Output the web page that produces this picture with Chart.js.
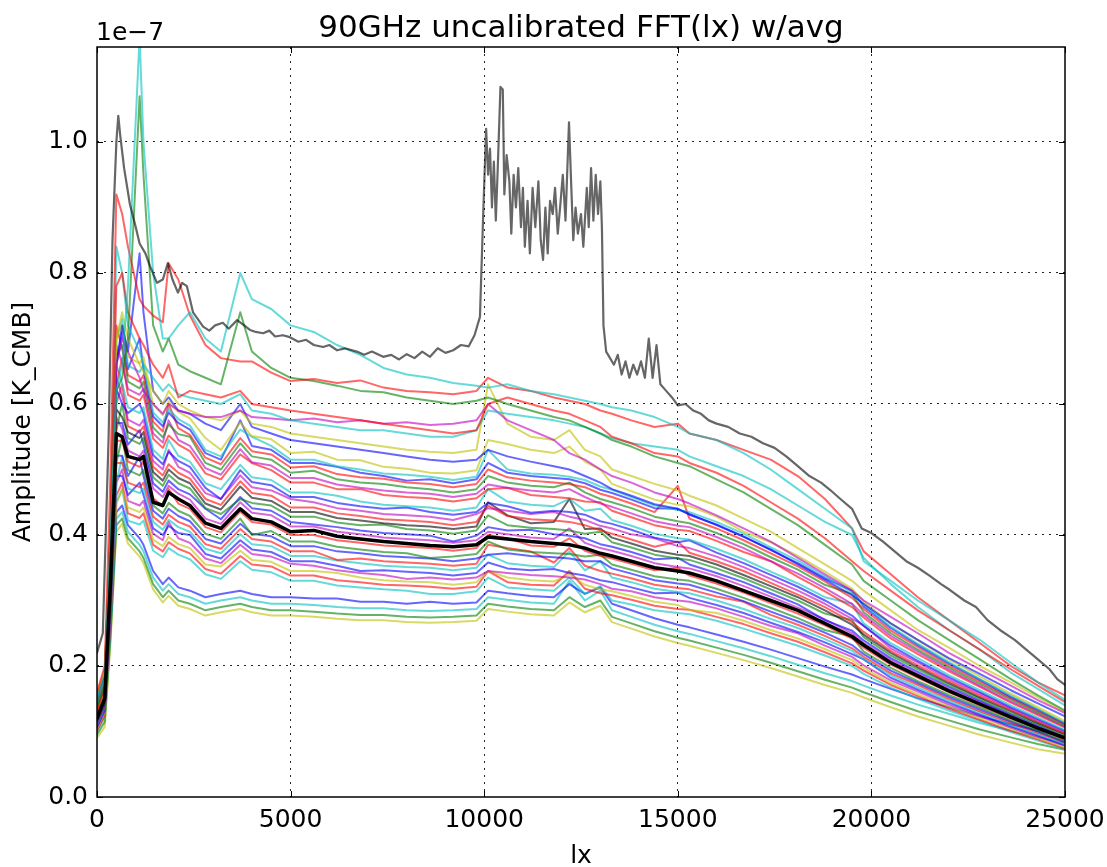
<!DOCTYPE html>
<html><head><meta charset="utf-8">
<script src="https://cdn.jsdelivr.net/npm/chart.js@4.4.0/dist/chart.umd.min.js"></script>
<style>html,body{margin:0;padding:0;background:#fff;}#wrap{width:1107px;height:867px;}</style>
</head><body><div id="wrap"><canvas id="c" width="1107" height="867"></canvas></div>
<script>
// ---- text ----
const titleText = '90GHz uncalibrated FFT(lx) w/avg';
const xLabel = 'lx';
const yLabel = 'Amplitude [K_CMB]';
const offsetLabel = '1e\u22127';
// ---- ticks ----
const xTicks = [0, 5000, 10000, 15000, 20000, 25000];
const yTicks = [0.0, 0.2, 0.4, 0.6, 0.8, 1.0];
// ---- shared lx grid (amplitudes in units of 1e-7 K_CMB) ----
const lxGrid = [0,200,350,500,650,800,1100,1200,1450,1700,1850,2100,2400,2800,3200,3700,4000,4500,5000,5600,6200,6800,7400,8000,8600,9200,9800,10100,10600,11200,11800,12200,12600,13000,13300,13800,14400,15000,15300,16000,16700,17400,18100,18800,19500,19800,20500,21200,22000,22800,23600,24300,25000];
const avgAmp = [0.12,0.15,0.33,0.555,0.55,0.52,0.515,0.52,0.45,0.445,0.465,0.455,0.445,0.418,0.41,0.44,0.425,0.42,0.405,0.407,0.398,0.394,0.39,0.387,0.384,0.382,0.385,0.397,0.394,0.39,0.387,0.385,0.38,0.372,0.368,0.36,0.35,0.345,0.342,0.33,0.315,0.3,0.285,0.265,0.245,0.232,0.205,0.185,0.162,0.142,0.122,0.105,0.09];
const cyanHi = [0.15,0.18,0.40,0.62,0.66,0.78,1.16,1.0,0.80,0.70,0.70,0.72,0.74,0.70,0.68,0.80,0.76,0.745,0.72,0.71,0.69,0.675,0.655,0.645,0.64,0.632,0.628,0.625,0.63,0.62,0.615,0.61,0.605,0.60,0.595,0.59,0.58,0.565,0.555,0.545,0.525,0.50,0.47,0.44,0.41,0.36,0.33,0.30,0.27,0.24,0.205,0.175,0.148];
const greenHi = [0.14,0.17,0.38,0.62,0.64,0.70,1.07,0.95,0.72,0.68,0.70,0.66,0.65,0.64,0.63,0.74,0.68,0.655,0.64,0.635,0.628,0.62,0.618,0.61,0.605,0.60,0.605,0.61,0.60,0.59,0.58,0.575,0.565,0.555,0.545,0.535,0.52,0.51,0.505,0.485,0.465,0.44,0.415,0.385,0.355,0.33,0.30,0.27,0.24,0.21,0.18,0.155,0.132];
const redHi = [0.16,0.20,0.50,0.92,0.89,0.84,0.76,0.75,0.735,0.725,0.815,0.79,0.735,0.69,0.67,0.665,0.665,0.648,0.635,0.638,0.632,0.636,0.625,0.62,0.618,0.615,0.62,0.64,0.625,0.62,0.61,0.605,0.60,0.59,0.585,0.575,0.565,0.57,0.555,0.545,0.53,0.515,0.49,0.455,0.41,0.375,0.34,0.305,0.27,0.235,0.20,0.175,0.155];
const redMid = [0.13,0.17,0.42,0.78,0.80,0.74,0.70,0.69,0.66,0.64,0.66,0.61,0.62,0.615,0.61,0.62,0.60,0.595,0.59,0.585,0.58,0.575,0.57,0.565,0.56,0.555,0.56,0.60,0.61,0.60,0.59,0.585,0.575,0.565,0.55,0.54,0.525,0.52,0.51,0.495,0.475,0.45,0.425,0.395,0.36,0.345,0.315,0.285,0.255,0.225,0.195,0.17,0.145];
const cyanMid = [0.14,0.17,0.40,0.84,0.80,0.72,0.68,0.66,0.64,0.62,0.63,0.615,0.61,0.605,0.60,0.615,0.59,0.585,0.575,0.57,0.565,0.56,0.56,0.555,0.55,0.55,0.56,0.59,0.585,0.58,0.575,0.57,0.565,0.555,0.548,0.54,0.535,0.53,0.52,0.505,0.49,0.47,0.445,0.42,0.40,0.365,0.325,0.29,0.255,0.225,0.19,0.165,0.14];
const magHi = [0.12,0.15,0.35,0.66,0.70,0.68,0.64,0.62,0.60,0.585,0.60,0.59,0.585,0.58,0.58,0.59,0.58,0.578,0.575,0.578,0.572,0.575,0.57,0.572,0.568,0.57,0.575,0.60,0.575,0.56,0.545,0.525,0.515,0.50,0.49,0.48,0.465,0.455,0.448,0.43,0.41,0.39,0.365,0.34,0.315,0.30,0.275,0.25,0.22,0.195,0.17,0.148,0.128];
const yellowHi = [0.13,0.16,0.38,0.70,0.74,0.70,0.66,0.65,0.62,0.60,0.62,0.60,0.59,0.58,0.575,0.59,0.57,0.565,0.555,0.55,0.545,0.54,0.535,0.53,0.527,0.525,0.53,0.63,0.57,0.55,0.545,0.56,0.53,0.52,0.50,0.49,0.478,0.468,0.46,0.445,0.425,0.405,0.38,0.355,0.33,0.315,0.285,0.255,0.228,0.2,0.175,0.152,0.13];
const blueHi = [0.12,0.15,0.36,0.66,0.72,0.68,0.83,0.74,0.62,0.60,0.61,0.59,0.585,0.57,0.56,0.60,0.565,0.555,0.545,0.54,0.535,0.53,0.525,0.52,0.515,0.512,0.515,0.53,0.52,0.512,0.505,0.50,0.49,0.48,0.47,0.46,0.447,0.44,0.432,0.415,0.397,0.378,0.355,0.332,0.308,0.295,0.265,0.24,0.212,0.188,0.163,0.143,0.123];
const bandA = [0.158,0.194,0.415,0.70,0.72,0.672,0.662,0.672,0.599,0.583,0.604,0.588,0.578,0.548,0.530,0.572,0.551,0.546,0.525,0.527,0.515,0.514,0.504,0.501,0.495,0.494,0.499,0.545,0.539,0.53,0.525,0.535,0.512,0.50,0.478,0.467,0.454,0.446,0.444,0.428,0.405,0.389,0.368,0.344,0.318,0.299,0.265,0.239,0.21,0.184,0.158,0.137,0.116];
const bandA2 = [0.155,0.191,0.407,0.70,0.73,0.659,0.649,0.659,0.587,0.572,0.592,0.577,0.567,0.530,0.520,0.561,0.55,0.536,0.515,0.515,0.505,0.500,0.494,0.492,0.489,0.484,0.489,0.53,0.500,0.494,0.492,0.489,0.484,0.474,0.469,0.458,0.445,0.438,0.435,0.420,0.402,0.381,0.361,0.337,0.312,0.294,0.260,0.234,0.206,0.180,0.155,0.134,0.113];
const bandB = [0.153,0.189,0.403,0.66,0.71,0.653,0.70,0.653,0.581,0.566,0.587,0.571,0.561,0.525,0.515,0.575,0.536,0.530,0.510,0.510,0.504,0.495,0.490,0.483,0.485,0.479,0.485,0.510,0.495,0.490,0.487,0.485,0.479,0.469,0.464,0.454,0.441,0.44,0.431,0.416,0.398,0.377,0.357,0.334,0.315,0.291,0.258,0.232,0.204,0.179,0.153,0.133,0.112];
const bandC = [0.151,0.186,0.397,0.72,0.684,0.644,0.634,0.644,0.573,0.558,0.60,0.563,0.553,0.518,0.508,0.548,0.528,0.523,0.503,0.505,0.493,0.488,0.486,0.480,0.478,0.473,0.478,0.50,0.488,0.483,0.480,0.478,0.473,0.463,0.458,0.448,0.435,0.475,0.425,0.410,0.392,0.372,0.352,0.329,0.304,0.287,0.254,0.229,0.201,0.176,0.151,0.131,0.111];
const bandD = [0.149,0.183,0.391,0.673,0.69,0.634,0.624,0.634,0.564,0.549,0.569,0.554,0.55,0.510,0.500,0.540,0.520,0.515,0.495,0.498,0.485,0.480,0.478,0.473,0.470,0.465,0.470,0.49,0.480,0.475,0.473,0.48,0.465,0.455,0.450,0.441,0.428,0.421,0.418,0.403,0.386,0.366,0.347,0.324,0.31,0.282,0.250,0.225,0.198,0.173,0.149,0.129,0.109];
const bandD2 = [0.146,0.180,0.385,0.69,0.662,0.623,0.614,0.623,0.555,0.541,0.575,0.545,0.536,0.502,0.492,0.531,0.511,0.506,0.487,0.487,0.477,0.472,0.468,0.465,0.463,0.458,0.463,0.477,0.472,0.468,0.465,0.47,0.458,0.448,0.443,0.433,0.421,0.414,0.412,0.397,0.380,0.360,0.341,0.319,0.295,0.278,0.246,0.222,0.195,0.170,0.146,0.127,0.107];
const bandE = [0.144,0.178,0.379,0.63,0.67,0.614,0.605,0.614,0.547,0.533,0.552,0.538,0.528,0.494,0.485,0.523,0.51,0.499,0.480,0.480,0.470,0.47,0.461,0.458,0.456,0.451,0.456,0.470,0.472,0.461,0.458,0.456,0.451,0.45,0.437,0.427,0.415,0.408,0.406,0.391,0.374,0.36,0.336,0.314,0.290,0.274,0.242,0.218,0.192,0.168,0.144,0.125,0.106];
const bandF = [0.140,0.172,0.367,0.66,0.632,0.595,0.586,0.595,0.530,0.516,0.545,0.521,0.512,0.479,0.470,0.507,0.488,0.484,0.465,0.465,0.46,0.451,0.446,0.444,0.442,0.437,0.442,0.47,0.451,0.446,0.444,0.455,0.437,0.44,0.423,0.414,0.402,0.395,0.393,0.379,0.363,0.344,0.326,0.305,0.295,0.265,0.235,0.212,0.186,0.163,0.140,0.121,0.102];
const bandG = [0.137,0.169,0.362,0.623,0.60,0.586,0.60,0.586,0.522,0.508,0.527,0.513,0.504,0.472,0.455,0.499,0.481,0.476,0.458,0.458,0.449,0.444,0.440,0.442,0.435,0.431,0.435,0.449,0.444,0.434,0.437,0.435,0.431,0.421,0.417,0.408,0.396,0.389,0.392,0.373,0.357,0.339,0.321,0.300,0.277,0.261,0.231,0.208,0.183,0.160,0.137,0.119,0.101];
const bandH = [0.135,0.167,0.356,0.64,0.612,0.576,0.567,0.576,0.513,0.500,0.53,0.504,0.495,0.464,0.455,0.491,0.473,0.468,0.455,0.450,0.441,0.437,0.432,0.430,0.428,0.423,0.432,0.441,0.437,0.432,0.435,0.428,0.423,0.414,0.410,0.401,0.395,0.383,0.380,0.367,0.351,0.333,0.315,0.295,0.272,0.262,0.227,0.205,0.180,0.158,0.135,0.117,0.099];
const bandH2 = [0.133,0.164,0.349,0.601,0.63,0.566,0.557,0.566,0.504,0.491,0.508,0.495,0.486,0.455,0.446,0.482,0.464,0.460,0.442,0.442,0.433,0.429,0.424,0.422,0.420,0.415,0.420,0.445,0.429,0.424,0.422,0.420,0.415,0.407,0.402,0.393,0.382,0.39,0.373,0.360,0.345,0.327,0.309,0.290,0.267,0.252,0.223,0.201,0.177,0.155,0.133,0.115,0.097];
const bandI = [0.131,0.161,0.344,0.592,0.58,0.557,0.548,0.557,0.496,0.483,0.500,0.487,0.479,0.448,0.439,0.474,0.457,0.452,0.435,0.435,0.426,0.422,0.418,0.415,0.413,0.409,0.413,0.45,0.43,0.418,0.42,0.455,0.409,0.41,0.396,0.387,0.376,0.370,0.368,0.355,0.339,0.322,0.305,0.285,0.263,0.248,0.220,0.198,0.174,0.152,0.131,0.113,0.096];
const bandJ = [0.128,0.158,0.338,0.56,0.60,0.548,0.539,0.548,0.488,0.475,0.492,0.479,0.471,0.441,0.432,0.455,0.449,0.445,0.428,0.428,0.419,0.415,0.416,0.409,0.407,0.402,0.407,0.43,0.415,0.411,0.409,0.407,0.402,0.405,0.389,0.381,0.370,0.364,0.362,0.349,0.334,0.317,0.300,0.280,0.27,0.244,0.216,0.195,0.171,0.150,0.128,0.111,0.094];
const bandK = [0.126,0.155,0.332,0.571,0.571,0.538,0.56,0.538,0.479,0.466,0.483,0.470,0.462,0.44,0.424,0.458,0.441,0.437,0.420,0.416,0.412,0.407,0.403,0.401,0.399,0.39,0.399,0.412,0.407,0.408,0.401,0.399,0.395,0.386,0.382,0.374,0.363,0.365,0.355,0.342,0.328,0.311,0.294,0.27,0.254,0.239,0.212,0.191,0.168,0.147,0.126,0.109,0.092];
const bandK2 = [0.124,0.153,0.326,0.58,0.562,0.529,0.520,0.529,0.471,0.458,0.475,0.463,0.454,0.425,0.417,0.450,0.434,0.430,0.413,0.413,0.405,0.401,0.396,0.394,0.392,0.388,0.392,0.405,0.401,0.396,0.394,0.41,0.388,0.380,0.376,0.368,0.357,0.351,0.349,0.337,0.322,0.306,0.289,0.271,0.250,0.235,0.209,0.188,0.165,0.145,0.124,0.107,0.091];
const bandL = [0.12,0.148,0.316,0.544,0.544,0.512,0.504,0.512,0.456,0.444,0.47,0.448,0.44,0.412,0.404,0.436,0.42,0.416,0.40,0.40,0.392,0.388,0.384,0.382,0.38,0.376,0.38,0.40,0.395,0.384,0.382,0.395,0.376,0.368,0.364,0.356,0.346,0.35,0.338,0.326,0.312,0.296,0.28,0.262,0.242,0.228,0.202,0.182,0.16,0.14,0.12,0.104,0.088];
const bandM = [0.117,0.144,0.308,0.51,0.55,0.499,0.491,0.499,0.445,0.433,0.449,0.437,0.429,0.402,0.394,0.425,0.40,0.406,0.390,0.390,0.382,0.378,0.374,0.372,0.365,0.367,0.371,0.39,0.378,0.374,0.372,0.371,0.367,0.37,0.355,0.347,0.337,0.332,0.330,0.318,0.304,0.289,0.273,0.255,0.245,0.222,0.197,0.177,0.156,0.137,0.117,0.101,0.086];
const bandM2 = [0.115,0.142,0.303,0.521,0.521,0.490,0.52,0.490,0.437,0.425,0.440,0.429,0.421,0.394,0.387,0.417,0.402,0.398,0.383,0.383,0.375,0.372,0.368,0.366,0.364,0.360,0.364,0.37,0.372,0.368,0.366,0.364,0.360,0.36,0.349,0.341,0.331,0.326,0.324,0.312,0.299,0.283,0.268,0.251,0.232,0.218,0.193,0.174,0.153,0.134,0.115,0.100,0.084];
const bandN = [0.113,0.139,0.296,0.510,0.510,0.480,0.473,0.480,0.428,0.416,0.431,0.420,0.413,0.386,0.379,0.409,0.394,0.390,0.375,0.375,0.362,0.364,0.360,0.358,0.356,0.353,0.356,0.385,0.38,0.375,0.358,0.38,0.353,0.345,0.341,0.334,0.324,0.319,0.317,0.306,0.298,0.278,0.263,0.246,0.227,0.214,0.189,0.171,0.150,0.131,0.113,0.098,0.083];
const bandO = [0.110,0.136,0.291,0.48,0.52,0.471,0.464,0.471,0.420,0.408,0.423,0.412,0.405,0.379,0.372,0.401,0.386,0.383,0.368,0.368,0.361,0.357,0.353,0.351,0.350,0.346,0.350,0.37,0.357,0.353,0.351,0.375,0.346,0.36,0.335,0.328,0.318,0.313,0.311,0.300,0.287,0.272,0.258,0.241,0.223,0.210,0.186,0.167,0.147,0.129,0.110,0.096,0.081];
const bandP = [0.108,0.133,0.284,0.490,0.490,0.461,0.48,0.461,0.410,0.400,0.414,0.403,0.40,0.371,0.364,0.392,0.378,0.374,0.360,0.360,0.353,0.345,0.346,0.344,0.342,0.338,0.342,0.358,0.349,0.346,0.348,0.342,0.338,0.331,0.328,0.320,0.311,0.312,0.304,0.293,0.281,0.266,0.252,0.236,0.218,0.21,0.182,0.164,0.144,0.126,0.108,0.094,0.079];
const bandQ = [0.106,0.131,0.279,0.480,0.50,0.452,0.445,0.452,0.402,0.392,0.42,0.395,0.388,0.364,0.357,0.385,0.371,0.367,0.356,0.353,0.346,0.342,0.339,0.333,0.335,0.332,0.335,0.345,0.342,0.339,0.337,0.335,0.332,0.325,0.318,0.314,0.305,0.300,0.298,0.288,0.275,0.261,0.25,0.231,0.214,0.201,0.178,0.161,0.141,0.124,0.106,0.092,0.078];
const bandR = [0.104,0.128,0.273,0.45,0.469,0.442,0.435,0.442,0.393,0.383,0.397,0.386,0.380,0.355,0.352,0.376,0.362,0.359,0.345,0.345,0.342,0.335,0.331,0.329,0.328,0.324,0.328,0.345,0.335,0.331,0.329,0.34,0.324,0.317,0.314,0.307,0.298,0.293,0.286,0.281,0.269,0.255,0.242,0.226,0.209,0.197,0.174,0.157,0.138,0.121,0.104,0.090,0.076];
const bandR2 = [0.101,0.125,0.267,0.460,0.48,0.433,0.426,0.433,0.385,0.375,0.389,0.379,0.372,0.348,0.341,0.368,0.355,0.352,0.338,0.338,0.331,0.328,0.324,0.323,0.321,0.318,0.321,0.345,0.328,0.324,0.323,0.345,0.318,0.311,0.308,0.301,0.292,0.287,0.286,0.275,0.264,0.250,0.237,0.221,0.204,0.193,0.171,0.154,0.135,0.118,0.101,0.088,0.074];
const bandS = [0.099,0.122,0.261,0.449,0.47,0.422,0.416,0.422,0.376,0.366,0.380,0.370,0.363,0.340,0.333,0.360,0.347,0.343,0.330,0.330,0.323,0.320,0.317,0.315,0.31,0.310,0.314,0.335,0.320,0.317,0.315,0.335,0.310,0.322,0.300,0.294,0.285,0.281,0.279,0.269,0.257,0.244,0.231,0.216,0.200,0.188,0.167,0.150,0.132,0.116,0.099,0.086,0.073];
const lowA = [0.115,0.135,0.265,0.435,0.445,0.415,0.395,0.385,0.345,0.325,0.335,0.32,0.315,0.305,0.31,0.315,0.31,0.305,0.305,0.303,0.303,0.298,0.298,0.295,0.298,0.295,0.297,0.315,0.311,0.307,0.305,0.325,0.31,0.32,0.295,0.285,0.273,0.263,0.259,0.248,0.237,0.225,0.212,0.199,0.187,0.18,0.165,0.151,0.137,0.123,0.111,0.101,0.092];
const lowB = [0.105,0.125,0.255,0.425,0.435,0.405,0.385,0.375,0.335,0.315,0.325,0.31,0.305,0.295,0.30,0.305,0.30,0.295,0.295,0.293,0.29,0.288,0.288,0.285,0.284,0.285,0.287,0.305,0.301,0.297,0.295,0.33,0.30,0.315,0.285,0.275,0.263,0.253,0.249,0.238,0.227,0.215,0.202,0.189,0.177,0.17,0.155,0.141,0.127,0.113,0.101,0.091,0.082];
const lowC = [0.095,0.115,0.245,0.415,0.425,0.395,0.375,0.365,0.325,0.305,0.315,0.30,0.295,0.285,0.29,0.295,0.29,0.285,0.285,0.283,0.28,0.278,0.278,0.275,0.274,0.275,0.277,0.295,0.291,0.287,0.285,0.305,0.29,0.30,0.275,0.265,0.253,0.243,0.239,0.228,0.217,0.205,0.192,0.179,0.167,0.16,0.145,0.131,0.117,0.103,0.091,0.081,0.072];
const lowD = [0.09,0.107,0.237,0.405,0.417,0.387,0.367,0.357,0.317,0.297,0.307,0.292,0.287,0.277,0.282,0.287,0.282,0.277,0.277,0.275,0.272,0.27,0.27,0.267,0.266,0.267,0.269,0.287,0.283,0.279,0.277,0.297,0.282,0.292,0.267,0.257,0.245,0.235,0.231,0.22,0.209,0.197,0.184,0.171,0.159,0.152,0.137,0.123,0.109,0.095,0.083,0.073,0.066];
// ---- the outlier detector (finer lx sampling) ----
const grayLx = [0,150,300,400,500,550,600,700,850,1000,
1100,1250,1370,1550,1700,1830,1950,2090,2200,2320,
2480,2600,2740,2900,3050,3250,3400,3620,3800,3950,
4100,4290,4450,4600,4800,4980,5200,5400,5600,5840,
6000,6200,6400,6710,6900,7100,7390,7600,7800,8000,
8200,8400,8600,8800,9000,9200,9400,9600,9750,9890,
9980,10050,10100,10150,10200,10250,10300,10350,10420,10480,
10520,10580,10650,10700,10760,10820,10880,10950,11000,11050,
11120,11180,11250,11320,11400,11460,11520,11580,11640,11700,
11770,11830,11900,11960,12030,12100,12190,12250,12300,12360,
12420,12500,12560,12650,12700,12760,12820,12880,12940,13000,
13040,13080,13150,13250,13350,13450,13550,13650,13750,13850,
13950,14050,14150,14250,14350,14450,14550,14700,14850,15000,
15200,15400,15600,15800,16000,16300,16600,16900,17200,17500,
17800,18100,18400,18700,18930,19200,19500,19750,20000,20300,
20600,20900,21200,21500,21800,22030,22400,22700,23000,23320,
23700,24000,24300,24600,24800,25000];
const grayAmp = [0.22,0.25,0.55,0.85,1.00,1.04,1.01,0.96,0.905,0.87,
0.845,0.83,0.81,0.785,0.79,0.815,0.79,0.77,0.785,0.78,
0.74,0.73,0.718,0.712,0.72,0.724,0.715,0.728,0.72,0.713,
0.71,0.708,0.712,0.703,0.705,0.702,0.695,0.698,0.69,0.687,
0.69,0.682,0.685,0.68,0.675,0.68,0.672,0.675,0.668,0.676,
0.67,0.68,0.672,0.685,0.678,0.682,0.69,0.688,0.705,0.733,
0.90,1.02,0.95,0.99,0.90,0.97,0.88,0.96,1.084,1.08,
0.92,0.98,0.94,0.86,0.95,0.90,0.96,0.87,0.93,0.84,
0.91,0.83,0.93,0.87,0.94,0.85,0.82,0.90,0.83,0.91,
0.89,0.93,0.86,0.90,0.95,0.88,1.03,0.93,0.85,0.90,
0.86,0.89,0.84,0.93,0.87,0.96,0.88,0.95,0.89,0.94,
0.87,0.72,0.68,0.67,0.66,0.675,0.645,0.665,0.64,0.66,
0.645,0.665,0.64,0.70,0.64,0.69,0.63,0.62,0.61,0.598,
0.60,0.59,0.585,0.575,0.57,0.565,0.555,0.55,0.54,0.533,
0.52,0.505,0.49,0.48,0.469,0.455,0.44,0.41,0.403,0.39,
0.375,0.36,0.35,0.338,0.325,0.316,0.30,0.29,0.27,0.255,
0.24,0.225,0.21,0.195,0.18,0.171];

// ---- styling ----
const COL = {b:'rgba(0,0,255,0.6)', g:'rgba(0,128,0,0.6)', r:'rgba(255,0,0,0.6)', c:'rgba(0,191,191,0.6)',
             m:'rgba(191,0,191,0.6)', y:'rgba(191,191,0,0.6)', k:'rgba(0,0,0,0.6)'};
const FONT = '"DejaVu Sans", sans-serif';

const detectorLines = [
  [lowD,'y'],[lowC,'g'],[lowB,'c'],[lowA,'b'],
  [bandS,'c'],[bandR2,'r'],[bandR,'y'],[bandQ,'m'],[bandP,'b'],[bandO,'c'],[bandN,'r'],[bandM2,'b'],[bandM,'g'],[bandL,'r'],
  [bandK2,'m'],[bandK,'b'],[bandJ,'g'],[bandI,'k'],[bandH2,'r'],[bandH,'m'],[bandG,'b'],[bandF,'c'],[bandE,'r'],[bandD2,'m'],[bandD,'g'],
  [bandC,'r'],[bandB,'b'],[bandA2,'c'],[bandA,'y'],
  [blueHi,'b'],[yellowHi,'y'],[magHi,'m'],[cyanMid,'c'],[redMid,'r'],[greenHi,'g'],[redHi,'r'],[cyanHi,'c']
];

const datasets = [];
datasets.push({label:'average', data: lxGrid.map((x,i)=>({x:x, y:avgAmp[i]})),
  borderColor:'#000', borderWidth:3.5, order:0});
detectorLines.forEach((d,j)=>{
  datasets.push({label:'det'+j, data: lxGrid.map((x,i)=>({x:x, y:d[0][i]})),
    borderColor: COL[d[1]], borderWidth:2, order:2+(detectorLines.length-j)});
});
datasets.push({label:'outlier', data: grayLx.map((x,i)=>({x:x, y:grayAmp[i]})),
  borderColor: COL.k, borderWidth:2.2, order:1});

const decor = {
  id:'decor',
  afterDatasetsDraw(chart){
    const ctx = chart.ctx, a = chart.chartArea, xs = chart.scales.x, ys = chart.scales.y;
    ctx.save();
    ctx.strokeStyle = '#000';
    ctx.lineWidth = 1;
    ctx.beginPath();
    xTicks.forEach(v=>{ const p = Math.round(xs.getPixelForValue(v)) + 0.5;
      ctx.moveTo(p, a.bottom); ctx.lineTo(p, a.bottom-6); ctx.moveTo(p, a.top); ctx.lineTo(p, a.top+6); });
    yTicks.forEach(v=>{ const p = Math.round(ys.getPixelForValue(v)) + 0.5;
      ctx.moveTo(a.left, p); ctx.lineTo(a.left+6, p); ctx.moveTo(a.right, p); ctx.lineTo(a.right-6, p); });
    ctx.stroke();
    ctx.lineWidth = 1.5;
    ctx.strokeRect(a.left, a.top, a.right-a.left, a.bottom-a.top);
    ctx.fillStyle = '#000';
    ctx.textBaseline = 'alphabetic';
    ctx.textAlign = 'center';
    ctx.font = '31px ' + FONT;
    ctx.fillText(titleText, (a.left+a.right)/2, 37);
    ctx.font = '25px ' + FONT;
    ctx.fillText(xLabel, (a.left+a.right)/2, 863);
    ctx.textAlign = 'left';
    ctx.fillText(offsetLabel, a.left-1, 40);
    ctx.translate(30, (a.top+a.bottom)/2);
    ctx.rotate(-Math.PI/2);
    ctx.textAlign = 'center';
    ctx.fillText(yLabel, 0, 0);
    ctx.restore();
  }
};

const gridColor = (edgeVals) => (c) => (c.tick && edgeVals.includes(c.tick.value)) ? 'rgba(0,0,0,0)' : 'rgba(0,0,0,0.85)';

new Chart(document.getElementById('c'), {
  type:'line',
  data:{datasets},
  options:{
    responsive:false, animation:false, devicePixelRatio:1,
    layout:{padding:{top:47, right:42, left:0, bottom:0}},
    elements:{point:{radius:0}, line:{tension:0, borderJoinStyle:'round', borderCapStyle:'round'}},
    plugins:{legend:{display:false}, tooltip:{enabled:false}, title:{display:false}},
    scales:{
      x:{type:'linear', min:0, max:25000,
        afterBuildTicks:(s)=>{ s.ticks = xTicks.map(v=>({value:v})); },
        afterFit:(s)=>{ s.height = 70; s.paddingLeft = 0; s.paddingRight = 0; },
        ticks:{autoSkip:false, maxRotation:0, minRotation:0, padding:8, color:'#000',
          font:{family:'DejaVu Sans', size:25}, callback:(v)=>String(v)},
        grid:{drawTicks:false, lineWidth:1, color: gridColor([0,25000])},
        border:{display:false, dash:[2,5]}},
      y:{type:'linear', min:0, max:1.145,
        afterBuildTicks:(s)=>{ s.ticks = yTicks.map(v=>({value:v})); },
        afterFit:(s)=>{ s.width = 97; s.paddingTop = 0; s.paddingBottom = 0; },
        ticks:{autoSkip:false, padding:9, color:'#000',
          font:{family:'DejaVu Sans', size:25}, callback:(v)=>Number(v).toFixed(1)},
        grid:{drawTicks:false, lineWidth:1, color: gridColor([0])},
        border:{display:false, dash:[2,5]}}
    }
  },
  plugins:[decor]
});
</script></body></html>
